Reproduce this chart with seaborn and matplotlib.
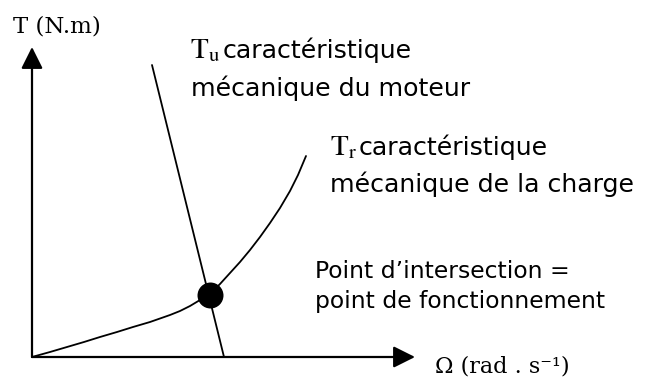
import matplotlib
matplotlib.use("Agg")
import matplotlib.pyplot as plt
import seaborn as sns
import pandas as pd

# ---- data (arbitrary units, origin at the axes crossing) ----
load_speed = [0, 18, 35, 52, 68, 85, 101, 118, 128, 138, 148, 158, 168, 178,
              188, 198, 208, 218, 228, 238, 248, 258, 266, 274]
load_torque = [0, 5, 10, 15, 20, 25, 30, 35, 38.5, 42, 46, 51, 57, 63,
               73, 84, 95, 107, 120, 134, 149, 166, 182, 201]
motor_speed = [192, 120]
motor_torque = [0, 292]
op_speed = [178]
op_torque = [62]

x_axis_end = 383
y_axis_end = 310

y_label = "T (N.m)"
x_label = "Ω (rad . s⁻¹)"
motor_symbol = r"$\mathrm{T_u}$"
load_symbol = r"$\mathrm{T_r}$"
motor_label = ["caractéristique", "mécanique du moteur"]
load_label = ["caractéristique", "mécanique de la charge"]
point_label = ["Point d’intersection =", "point de fonctionnement"]

sns.set_theme(style="white")
plt.rcParams["font.family"] = ["DejaVu Sans"]
plt.rcParams["mathtext.fontset"] = "stix"
plt.rcParams["text.color"] = "black"

fig = plt.figure(figsize=(6.51, 3.78), dpi=100)
ax = fig.add_axes([0, 0, 1, 1])
ax.set_xlim(-32, 619)
ax.set_ylim(-21, 357)
ax.axis("off")

load_df = pd.DataFrame({"speed": load_speed, "torque": load_torque})
motor_df = pd.DataFrame({"speed": motor_speed, "torque": motor_torque})
op_df = pd.DataFrame({"speed": op_speed, "torque": op_torque})

sns.lineplot(data=load_df, x="speed", y="torque", sort=False, estimator=None,
             color="black", lw=1.3, ax=ax)
sns.lineplot(data=motor_df, x="speed", y="torque", sort=False, estimator=None,
             color="black", lw=1.3, ax=ax)
sns.scatterplot(data=op_df, x="speed", y="torque", s=350, color="black",
                linewidth=0, ax=ax, zorder=5)

arrow = dict(arrowstyle="-|>,head_length=1.1,head_width=0.55", lw=1.6,
             color="black", shrinkA=0, shrinkB=0)
ax.annotate("", xy=(0, y_axis_end), xytext=(0, 0), arrowprops=arrow)
ax.annotate("", xy=(x_axis_end, 0), xytext=(0, 0), arrowprops=arrow)

serif = ["DejaVu Serif"]
kw = dict(ha="left", va="baseline", color="black")
ax.text(-19, 324, y_label, family=serif, fontsize=16.5, **kw)
ax.text(403, -15, x_label, family=serif, fontsize=16, **kw)

fs = 18.2
ax.text(158, 299, motor_symbol, fontsize=21, **kw)
ax.text(191, 299, motor_label[0], fontsize=fs, **kw)
ax.text(159, 261, motor_label[1], fontsize=fs, **kw)
ax.text(298, 202, load_symbol, fontsize=21, **kw)
ax.text(327, 202, load_label[0], fontsize=fs, **kw)
ax.text(298, 165, load_label[1], fontsize=fs, **kw)
ax.text(283, 79, point_label[0], fontsize=16.9, **kw)
ax.text(283, 49, point_label[1], fontsize=16.9, **kw)

ax.set_xlabel("")
ax.set_ylabel("")
fig.savefig("out.png", dpi=100)
